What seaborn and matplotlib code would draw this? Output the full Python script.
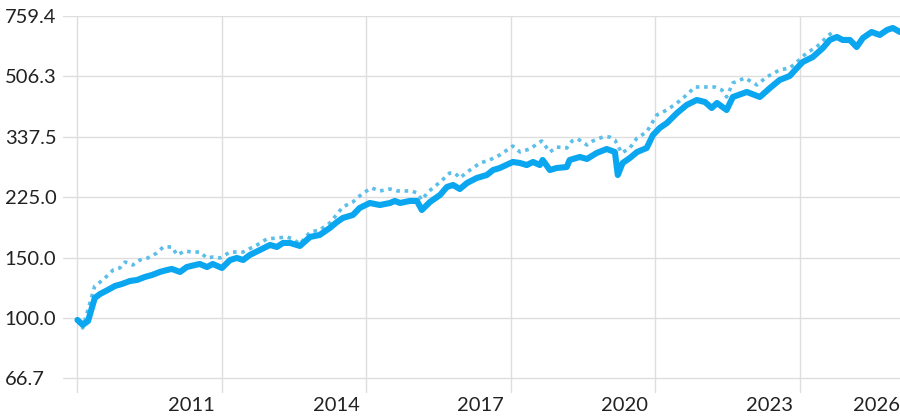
import numpy as np
import pandas as pd
import matplotlib
matplotlib.use("Agg")
from matplotlib import pyplot as plt
from matplotlib import transforms
import seaborn as sns

# solid series (decimal year, index value)
solid_years = [2008.00, 2008.11, 2008.22, 2008.36, 2008.47, 2008.63, 2008.78, 2008.92,
               2009.09, 2009.24, 2009.40, 2009.55, 2009.71, 2009.86, 2009.96, 2010.13,
               2010.27, 2010.44, 2010.54, 2010.69, 2010.81, 2011.00, 2011.17, 2011.31,
               2011.44, 2011.58, 2011.79, 2012.00, 2012.14, 2012.27, 2012.41, 2012.62,
               2012.83, 2013.03, 2013.24, 2013.39, 2013.51, 2013.72, 2013.86, 2014.07,
               2014.28, 2014.49, 2014.59, 2014.70, 2014.90, 2015.05, 2015.15, 2015.32,
               2015.53, 2015.67, 2015.80, 2015.94, 2016.09, 2016.29, 2016.50, 2016.63,
               2016.77, 2017.04, 2017.19, 2017.33, 2017.46, 2017.60, 2017.66, 2017.81,
               2017.95, 2018.16, 2018.22, 2018.43, 2018.58, 2018.78, 2018.99, 2019.16,
               2019.22, 2019.32, 2019.47, 2019.62, 2019.82, 2019.95, 2020.09, 2020.24,
               2020.45, 2020.65, 2020.86, 2021.03, 2021.17, 2021.28, 2021.48, 2021.61,
               2021.90, 2022.17, 2022.38, 2022.58, 2022.79, 2022.94, 2023.06, 2023.27,
               2023.48, 2023.62, 2023.77, 2023.89, 2024.04, 2024.18, 2024.31, 2024.49,
               2024.66, 2024.81, 2024.93, 2025.08]
solid_values = [98.7, 95.5, 98.0, 114.4, 117.5, 120.7, 124.0, 125.6,
                128.2, 129.1, 131.7, 133.5, 136.2, 138.0, 139.0, 136.2,
                140.8, 142.7, 143.7, 140.8, 143.7, 139.9, 147.6, 149.6,
                147.6, 152.7, 157.9, 163.3, 161.1, 165.5, 165.5, 162.2,
                172.3, 174.6, 183.0, 190.5, 195.7, 199.7, 209.3, 216.4,
                213.5, 216.4, 219.4, 216.4, 219.4, 219.4, 206.5, 217.9,
                228.4, 240.9, 244.2, 237.7, 247.5, 255.9, 261.1, 270.0,
                273.7, 285.0, 283.0, 279.2, 285.0, 279.2, 288.8, 270.0,
                273.7, 275.5, 288.8, 294.7, 290.8, 302.7, 310.9, 304.7,
                261.1, 283.0, 292.7, 304.7, 313.0, 341.6, 358.0, 370.2,
                395.9, 417.8, 432.0, 426.2, 409.4, 423.4, 404.0, 440.8,
                455.9, 440.8, 468.3, 494.1, 507.6, 535.5, 557.5, 576.6,
                612.5, 646.3, 659.4, 646.3, 646.3, 616.6, 655.0, 681.9,
                668.4, 691.2, 700.5, 681.9]

# dotted series
dotted_years = [2008.00, 2008.11, 2008.36, 2008.53, 2008.74, 2008.88, 2008.99, 2009.15,
                2009.30, 2009.46, 2009.65, 2009.78, 2009.96, 2010.07, 2010.23, 2010.38,
                2010.54, 2010.69, 2010.81, 2010.96, 2011.17, 2011.44, 2011.73, 2011.93,
                2012.14, 2012.35, 2012.47, 2012.62, 2012.83, 2013.03, 2013.24, 2013.41,
                2013.51, 2013.72, 2013.93, 2014.11, 2014.28, 2014.49, 2014.65, 2014.84,
                2014.94, 2015.05, 2015.15, 2015.28, 2015.53, 2015.73, 2015.84, 2015.94,
                2016.15, 2016.36, 2016.56, 2016.77, 2017.04, 2017.19, 2017.39, 2017.64,
                2017.81, 2017.95, 2018.16, 2018.27, 2018.39, 2018.58, 2018.70, 2018.91,
                2019.05, 2019.16, 2019.30, 2019.47, 2019.62, 2019.82, 2020.03, 2020.24,
                2020.45, 2020.65, 2020.82, 2020.99, 2021.23, 2021.38, 2021.48, 2021.61,
                2021.86, 2022.11, 2022.31, 2022.58, 2022.79, 2022.94, 2023.14, 2023.35,
                2023.56, 2023.68]
dotted_values = [98.7, 93.5, 124.0, 129.1, 138.0, 139.9, 145.6, 142.7,
                 147.6, 149.6, 154.7, 161.1, 161.1, 152.7, 156.8, 155.7,
                 155.7, 149.6, 150.6, 149.6, 155.7, 155.7, 163.3, 169.9,
                 171.1, 172.3, 169.9, 164.4, 178.1, 180.5, 189.2, 202.4,
                 210.7, 217.9, 231.4, 239.3, 234.6, 237.7, 234.6, 234.6,
                 234.6, 231.4, 220.9, 233.0, 249.1, 264.6, 264.6, 255.9,
                 270.0, 283.0, 288.8, 298.7, 317.2, 304.7, 310.9, 328.1,
                 304.7, 315.1, 313.0, 328.1, 332.5, 319.4, 328.1, 337.1,
                 337.1, 330.3, 302.7, 313.0, 334.8, 348.6, 390.7, 404.0,
                 423.4, 446.8, 471.4, 471.4, 471.4, 462.1, 440.8, 484.3,
                 500.8, 477.9, 504.2, 528.4, 535.5, 557.5, 592.2, 616.6,
                 659.4, 681.9]

y_ticks = [66.7, 100.0, 150.0, 225.0, 337.5, 506.3, 759.4]
y_labels = ["66.7", "100.0", "150.0", "225.0", "337.5", "506.3", "759.4"]
x_ticks = [2011, 2014, 2017, 2020, 2023]
x_labels = ["2011", "2014", "2017", "2020", "2023"]
last_label = "2026"

solid_df = pd.DataFrame({"year": solid_years, "value": solid_values})
dotted_df = pd.DataFrame({"year": dotted_years, "value": dotted_values})

sns.set_theme(style="whitegrid")
plt.rcParams["font.family"] = ["Lato", "DejaVu Sans"]

fig = plt.figure(figsize=(9, 4.2), dpi=100)
ax = fig.add_axes([0.07, 0.064, 0.93, 0.898])

sns.lineplot(data=dotted_df, x="year", y="value", ax=ax, color="#5cbfea",
             lw=2.6, linestyle=(0, (1, 1.3)), solid_capstyle="round")
sns.lineplot(data=solid_df, x="year", y="value", ax=ax, color="#0aa6f0",
             lw=4.4, solid_joinstyle="round", solid_capstyle="round")

ax.set_yscale("log")
ax.set_ylim(60.4, 759.4)
ax.set_xlim(2007.70, 2025.08)
ax.set_yticks(y_ticks)
ax.set_yticklabels(y_labels)
ax.minorticks_off()
ax.set_xticks([2008] + x_ticks)
ax.set_xticklabels([""] + x_labels)

ax.grid(True, color="#dedede", lw=1)
for s in ax.spines.values():
    s.set_visible(False)
ax.set_xlabel("")
ax.set_ylabel("")

fs = 14.5
ax.tick_params(axis="y", length=0, pad=42, labelsize=fs, labelcolor="#222222")
ax.tick_params(axis="x", length=0, pad=3, labelsize=fs, labelcolor="#222222")
for lab in ax.get_yticklabels():
    lab.set_horizontalalignment("left")
shift = transforms.ScaledTranslation(-5 / 72, 0, fig.dpi_scale_trans)
for lab in ax.get_xticklabels():
    lab.set_horizontalalignment("right")
    lab.set_transform(lab.get_transform() + shift)

# last year label sits flush with the right edge, same baseline as the tick labels
lab_off = transforms.ScaledTranslation(0, -3 / 72, fig.dpi_scale_trans)
ax.text(1.0, 0.0, last_label, transform=ax.transAxes + lab_off, ha="right", va="top",
        fontsize=fs, color="#222222")

fig.savefig("out.png", dpi=100)
